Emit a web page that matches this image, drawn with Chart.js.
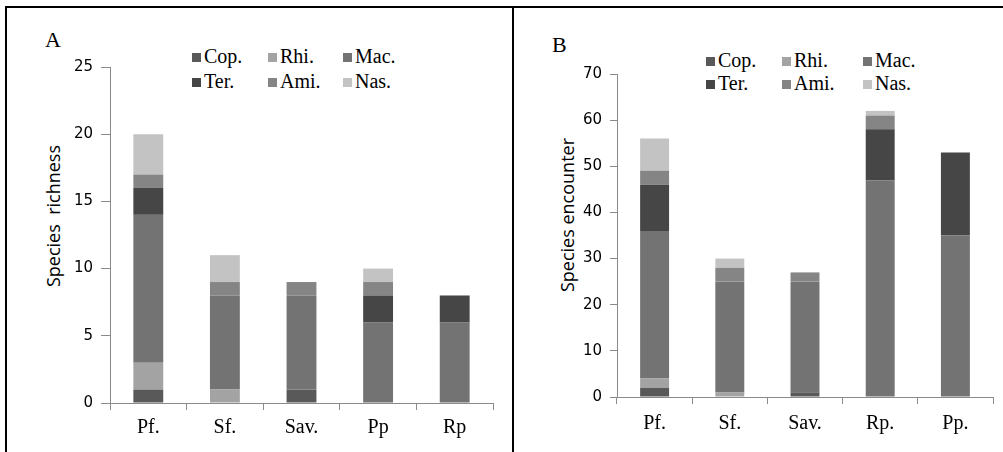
<!DOCTYPE html>
<html>
<head>
<meta charset="utf-8">
<script src="https://cdn.jsdelivr.net/npm/chart.js@4"></script>
<style>
  html, body { margin: 0; padding: 0; background: #fff; }
  #page { position: relative; width: 1003px; height: 452px; overflow: hidden; }
  canvas { position: absolute; }
  .frame { position: absolute; background: #000; }
  .panel-tag { position: absolute; font-family: "Liberation Serif", serif; font-size: 22px; color: #000; }
  .ytitle { position: absolute; font-family: "Open Sans", sans-serif; font-size: 18px; color: #000;
            white-space: pre; transform: translate(-50%, -50%) rotate(-90deg); }
  .legend { position: absolute; font-family: "Liberation Serif", serif; font-size: 20px; color: #000; }
  .legend .item { position: absolute; white-space: nowrap; line-height: 20px; }
  .legend .box { display: inline-block; width: 9px; height: 9px; margin-right: 3px; vertical-align: 1px; }
</style>
</head>
<body>
<div id="page">
  <div class="frame" style="left:5px; top:6px; width:998px; height:2px;"></div>
  <div class="frame" style="left:5px; top:6px; width:2px; height:446px;"></div>
  <div class="frame" style="left:512px; top:6px; width:2px; height:446px;"></div>

  <div class="panel-tag" style="left:45px; top:27px;">A</div>
  <div class="panel-tag" style="left:552px; top:32px;">B</div>

  <div class="ytitle" style="left:53px; top:216px;">Species  richness</div>
  <div class="ytitle" style="left:567px; top:215px;">Species encounter</div>

  <div class="legend" id="legendA"></div>
  <div class="legend" id="legendB"></div>

  <canvas id="chartA" width="505" height="452" style="left:0; top:0;"></canvas>
  <canvas id="chartB" width="488" height="452" style="left:515px; top:0;"></canvas>
</div>

<script>
// Series (stack order bottom -> top, same as legend order)
const seriesNames = ['Cop.', 'Rhi.', 'Mac.', 'Ter.', 'Ami.', 'Nas.'];
const seriesColors = ['#595959', '#a3a3a3', '#737373', '#464646', '#858585', '#c3c3c3'];

// Panel A - species richness
const richnessSites = ['Pf.', 'Sf.', 'Sav.', 'Pp', 'Rp'];
const richnessCop = [1, 0, 1, 0, 0];
const richnessRhi = [2, 1, 0, 0, 0];
const richnessMac = [11, 7, 7, 6, 6];
const richnessTer = [2, 0, 0, 2, 2];
const richnessAmi = [1, 1, 1, 1, 0];
const richnessNas = [3, 2, 0, 1, 0];
const richnessTicks = { max: 25, step: 5 };

// Panel B - species encounter
const encounterSites = ['Pf.', 'Sf.', 'Sav.', 'Rp.', 'Pp.'];
const encounterCop = [2, 0, 1, 0, 0];
const encounterRhi = [2, 1, 0, 0, 0];
const encounterMac = [32, 24, 24, 47, 35];
const encounterTer = [10, 0, 0, 11, 18];
const encounterAmi = [3, 3, 2, 3, 0];
const encounterNas = [7, 2, 0, 1, 0];
const encounterTicks = { max: 70, step: 10 };

const AXIS_GREY = '#8a8a8a';

/**
 * Stacked bar chart for one panel
 */
function createStackedChart(canvasId, sites, values, ticks, cfg) {
  const ctx = document.getElementById(canvasId);
  if (!ctx) {
    console.error('Canvas element not found:', canvasId);
    return null;
  }

  const datasets = seriesNames.map((name, i) => ({
    label: name,
    data: values[i],
    backgroundColor: seriesColors[i],
    borderWidth: 0,
    barPercentage: cfg.barPercentage,
    categoryPercentage: 1
  }));

  ctx.chart = new Chart(ctx, {
    type: 'bar',
    data: { labels: sites, datasets: datasets },
    options: {
      responsive: false,
      animation: false,
      layout: { padding: cfg.padding },
      plugins: {
        legend: { display: false },
        tooltip: { enabled: false }
      },
      scales: {
        x: {
          stacked: true,
          afterFit: scale => { scale.height = cfg.xHeight; },
          grid: { drawOnChartArea: false, color: AXIS_GREY, tickLength: 7 },
          border: { color: AXIS_GREY, width: 1 },
          ticks: {
            color: '#000',
            padding: cfg.xPad,
            font: { family: '"Liberation Serif", serif', size: 20 }
          }
        },
        y: {
          stacked: true,
          min: 0,
          max: ticks.max,
          afterFit: scale => { scale.width = cfg.yWidth; },
          grid: { drawOnChartArea: false, color: AXIS_GREY, tickLength: cfg.yTick },
          border: { color: AXIS_GREY, width: 1 },
          ticks: {
            stepSize: ticks.step,
            color: '#000',
            padding: 8,
            font: { family: '"DejaVu Sans", sans-serif', size: 15 }
          }
        }
      }
    }
  });

  return ctx.chart;
}

/**
 * Legend in 2 rows x 3 columns, built from the series arrays
 */
function buildLegend(elId, colX, rowY) {
  const el = document.getElementById(elId);
  seriesNames.forEach((name, i) => {
    const item = document.createElement('div');
    item.className = 'item';
    item.style.left = colX[i % 3] + 'px';
    item.style.top = (rowY[Math.floor(i / 3)] - 10) + 'px';
    const box = document.createElement('span');
    box.className = 'box';
    box.style.background = seriesColors[i];
    item.appendChild(box);
    item.appendChild(document.createTextNode(name));
    el.appendChild(item);
  });
}

buildLegend('legendA', [192, 268, 343], [56, 81]);
buildLegend('legendB', [706, 782, 863], [60, 83]);

createStackedChart('chartA', richnessSites,
  [richnessCop, richnessRhi, richnessMac, richnessTer, richnessAmi, richnessNas],
  richnessTicks,
  {
    padding: { left: 0, right: 12, top: 67, bottom: 0 },
    xHeight: 49, yWidth: 110, xPad: 6, yTick: 9,
    barPercentage: 0.39
  });

createStackedChart('chartB', encounterSites,
  [encounterCop, encounterRhi, encounterMac, encounterTer, encounterAmi, encounterNas],
  encounterTicks,
  {
    padding: { left: 0, right: 10, top: 74, bottom: 0 },
    xHeight: 55, yWidth: 102, xPad: 8, yTick: 7,
    barPercentage: 0.385
  });
</script>
</body>
</html>
